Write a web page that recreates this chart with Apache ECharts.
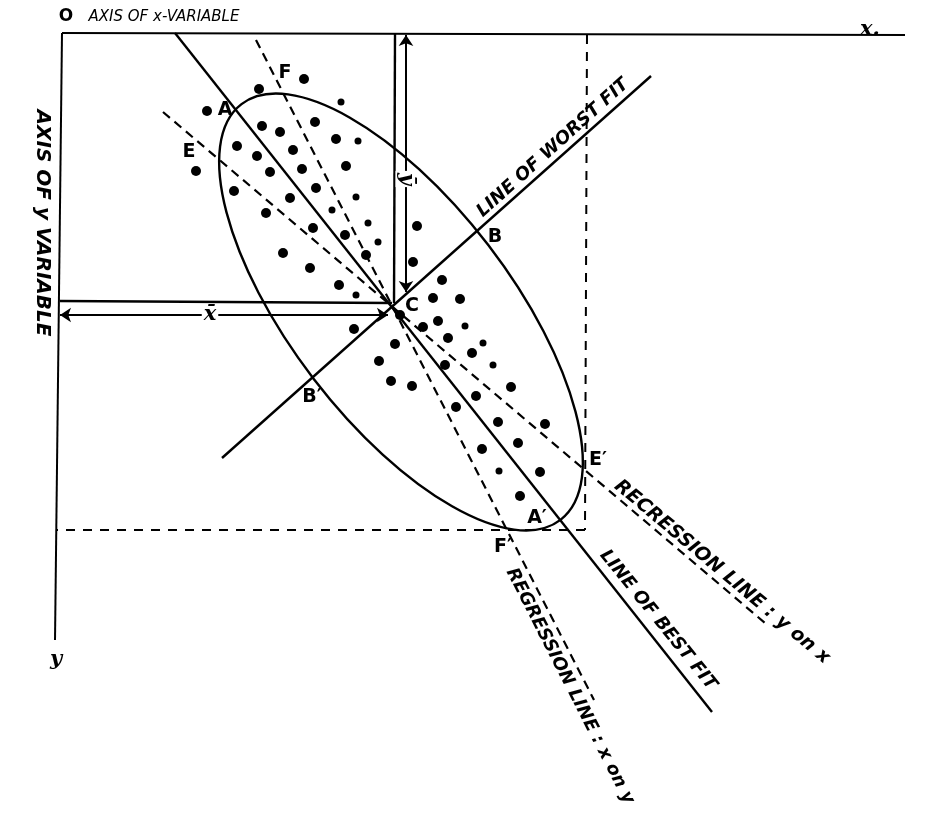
<!DOCTYPE html>
<html><head><meta charset="utf-8">
<script src="https://cdn.jsdelivr.net/npm/echarts@6/dist/echarts.min.js"></script>
<style>html,body{margin:0;padding:0;background:#fff}#c{width:932px;height:826px}</style>
</head><body><div id="c"></div>
<script>
// ---- data (diagram coordinates) ----
const dotsBig = [[259,89],[304,79],[207,111],[262,126],[280,132],[315,122],[237,146],[257,156],[293,150],[196,171],[270,172],[302,169],[346,166],[234,191],[316,188],[290,198],[266,213],[417,226],[313,228],[345,235],[366,255],[283,253],[310,268],[413,262],[339,285],[442,280],[433,298],[460,299],[400,315],[354,329],[423,327],[438,321],[448,338],[395,344],[379,361],[391,381],[412,386],[445,365],[472,353],[511,387],[476,396],[456,407],[498,422],[545,424],[518,443],[482,449],[540,472],[520,496],[336,139]];
const dotsSmall = [[341,102],[358,141],[356,197],[332,210],[368,223],[378,242],[356,295],[465,326],[483,343],[493,365],[499,471]];
const axisLines = [[[62,33],[905,35]],[[62,33],[55,640]]];
const solidLines = [
  [[175,33],[712,712]],   // line of best fit
  [[222,458],[651,76]],   // line of worst fit
  [[60,301],[392,303]],   // horizontal to C
  [[395,34],[394,303]]    // vertical to C
];
const regressionLines = [
  [[163,112],[765,623]],  // y on x
  [[256,40],[594,700]]    // x on y
];
const tangentLines = [
  [[587,35],[585,530]],
  [[585,530],[57,530]]
];
const arrowLines = [
  [[60,315],[388,315]],
  [[406,35],[406,292]]
];
const ellipseParams = [[401,312,262,110,52.5]];

const letterNames = ['O','A','F','E','B','B′','C','E′','A′','F′'];
const letterPos = [[66,17],[225,110],[285,73],[189,152],[495,237],[312,397],[412,306],[598,460],[537,518],[503,547]];

const captionTexts = ['AXIS OF x-VARIABLE','AXIS OF y VARIABLE','LINE OF WORST FIT','LINE OF BEST FIT','RECRESSION LINE : y on x','REGRESSION LINE : x on y'];
const captionPos = [[164,17],[42,223],[553,148],[658,620],[722,572],[570,686]];
const captionAngle = [0,-90,42,-51,-40,-63];

const mathTexts = ['x.','y','x\u0304','y\u0304'];
const mathPos = [[870,30],[56,660],[210,315],[406,179]];
const mathAngle = [0,0,0,-90];

// ---- chart ----
const chart = echarts.init(document.getElementById('c'), null, {renderer:'canvas'});

function segs(list){ return list.map(c => ({coords:c})); }
function textSeries(texts, pos, angles, styleFn){
  return {
    type:'custom', coordinateSystem:'cartesian2d', silent:true, z:10,
    data: pos,
    renderItem(params, api){
      const i = params.dataIndex;
      const p = api.coord([api.value(0), api.value(1)]);
      const st = styleFn(i);
      const style = {text:texts[i], fill:'#000', font:st.font, align:'center', verticalAlign:'middle', textAlign:'center', textVerticalAlign:'middle'};
      if (st.bg) { style.backgroundColor = st.bg; style.padding = [0,2]; }
      return {type:'text', x:p[0], y:p[1], rotation:(angles[i]||0)*Math.PI/180, style};
    }
  };
}

const captionFonts = ['italic 15px "DejaVu Sans"','italic bold 20px "DejaVu Sans"','italic bold 18px "DejaVu Sans"','italic bold 18px "DejaVu Sans"','italic bold 19px "DejaVu Sans"','italic bold 18px "DejaVu Sans"'];

const option = {
  backgroundColor:'#fff',
  animation:false,
  grid:{left:0,right:0,top:0,bottom:0},
  xAxis:{type:'value', min:0, max:932, show:false},
  yAxis:{type:'value', min:0, max:826, inverse:true, show:false},
  series:[
    {type:'lines', coordinateSystem:'cartesian2d', silent:true, data:segs(axisLines),
     lineStyle:{color:'#000', width:2, opacity:1}, symbol:'none'},
    {type:'lines', coordinateSystem:'cartesian2d', silent:true, data:segs(solidLines),
     lineStyle:{color:'#000', width:2.4, opacity:1}, symbol:'none'},
    {type:'lines', coordinateSystem:'cartesian2d', silent:true, data:segs(regressionLines),
     lineStyle:{color:'#000', width:2.2, opacity:1, type:[9,6]}, symbol:'none'},
    {type:'lines', coordinateSystem:'cartesian2d', silent:true, data:segs(tangentLines),
     lineStyle:{color:'#000', width:2, opacity:1, type:[9,8]}, symbol:'none'},
    {type:'lines', coordinateSystem:'cartesian2d', silent:true, data:segs(arrowLines),
     lineStyle:{color:'#000', width:2, opacity:1}, symbol:['arrow','arrow'], symbolSize:11},
    {type:'custom', coordinateSystem:'cartesian2d', silent:true, data:ellipseParams,
     renderItem(params, api){
       const c = api.coord([api.value(0), api.value(1)]);
       const s = api.size([api.value(2), api.value(3)]);
       return {type:'ellipse', x:c[0], y:c[1], rotation:-api.value(4)*Math.PI/180,
         shape:{cx:0, cy:0, rx:Math.abs(s[0]), ry:Math.abs(s[1])},
         style:{fill:null, stroke:'#000', lineWidth:2.4}};
     }},
    {type:'scatter', silent:true, data:dotsBig, symbolSize:10, itemStyle:{color:'#000', opacity:1}},
    {type:'scatter', silent:true, data:dotsSmall, symbolSize:7, itemStyle:{color:'#000', opacity:1}},
    textSeries(letterNames, letterPos, [], i => ({font: i===0 ? 'bold 17px "DejaVu Sans"' : 'bold 19px "DejaVu Sans"'})),
    textSeries(captionTexts, captionPos, captionAngle, i => ({font: captionFonts[i]})),
    textSeries(mathTexts, mathPos, mathAngle, i => ({font:'italic bold 21px "DejaVu Serif"', bg: i>=2 ? '#fff' : null}))
  ]
};
chart.setOption(option);
</script></body></html>
